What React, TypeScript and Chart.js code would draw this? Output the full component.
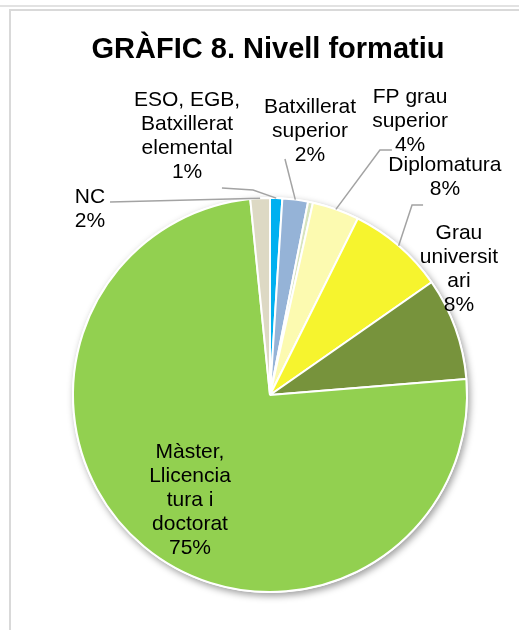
import React, { useEffect, useRef } from "react";
import { Chart, registerables } from "chart.js";

Chart.register(...registerables);

// ---- data ----
const categories = [
  "ESO, EGB, Batxillerat elemental",
  "Batxillerat superior",
  "FP grau mitjà",
  "FP grau superior",
  "Diplomatura",
  "Grau universitari",
  "Màster, Llicenciatura i doctorat",
  "NC",
];
const values = [1.0, 2.1, 0.4, 3.85, 7.95, 8.4, 74.7, 1.6];
const colors = ["#00B0F0", "#95B3D7", "#D7E4BD", "#FCFAB0", "#F6F42E", "#77933C", "#92D050", "#DDD9C4"];
// wrapped label text as in the original (percentage is appended from values)
const labelLines: (string[] | null)[] = [
  ["ESO, EGB,", "Batxillerat", "elemental"],
  ["Batxillerat", "superior"],
  null,
  ["FP grau", "superior"],
  ["Diplomatura"],
  ["Grau", "universit", "ari"],
  ["Màster,", "Llicencia", "tura i", "doctorat"],
  ["NC"],
];
const titleText = "GRÀFIC 8. Nivell formatiu";

// ---- label placement (in units of pie radius, relative to pie centre) ----
const labelPos: ([number, number] | null)[] = [
  [-0.421, -1.32],
  [0.203, -1.35],
  null,
  [0.711, -1.396],
  [0.888, -1.114],
  [0.959, -0.645],
  [-0.406, 0.525],
  [-0.914, -0.954],
];
// leader line points (radius units) before reaching the slice edge
const leaderPts: ([number, number][] | null)[] = [
  [[-0.244, -1.051], [-0.086, -1.041]],
  [[0.076, -1.198]],
  null,
  [[0.619, -1.244], [0.558, -1.244]],
  [[0.777, -0.964], [0.721, -0.964]],
  null,
  null,
  [[-0.812, -0.98]],
];

const FONT = "'Liberation Sans', Arial, sans-serif";

const decoPlugin = {
  id: "deco",
  beforeDraw(chart: any) {
    const ctx = chart.ctx;
    ctx.save();
    ctx.fillStyle = "#ffffff";
    ctx.fillRect(0, 0, chart.width, chart.height);
    ctx.strokeStyle = "#E2E2E2";
    ctx.lineWidth = 2;
    ctx.beginPath();
    ctx.moveTo(0, 6);
    ctx.lineTo(chart.width, 6);
    ctx.stroke();
    ctx.strokeStyle = "#D9D9D9";
    ctx.beginPath();
    ctx.moveTo(10, chart.height + 5);
    ctx.lineTo(10, 10);
    ctx.lineTo(chart.width + 5, 10);
    ctx.stroke();
    // title
    ctx.fillStyle = "#000000";
    ctx.font = `bold 29px ${FONT}`;
    ctx.textAlign = "center";
    ctx.textBaseline = "alphabetic";
    ctx.fillText(titleText, 268, 58);
    ctx.restore();
  },
  beforeDatasetsDraw(chart: any) {
    const arcs = chart.getDatasetMeta(0).data;
    if (!arcs.length) return;
    const a = arcs[0];
    const ctx = chart.ctx;
    ctx.save();
    ctx.shadowColor = "rgba(0,0,0,0.38)";
    ctx.shadowBlur = 7;
    ctx.shadowOffsetX = 2;
    ctx.shadowOffsetY = 3;
    ctx.fillStyle = "#ffffff";
    ctx.beginPath();
    ctx.arc(a.x, a.y, a.outerRadius + 1, 0, Math.PI * 2);
    ctx.fill();
    ctx.restore();
  },
  afterDatasetsDraw(chart: any) {
    const arcs = chart.getDatasetMeta(0).data;
    if (!arcs.length) return;
    const cx = arcs[0].x;
    const cy = arcs[0].y;
    const r = arcs[0].outerRadius;
    const ctx = chart.ctx;
    const total = values.reduce((s, v) => s + v, 0);
    ctx.save();
    // leader lines
    ctx.strokeStyle = "#A3A3A3";
    ctx.lineWidth = 1.5;
    leaderPts.forEach((pts, i) => {
      if (!pts) return;
      const arc = arcs[i];
      const mid = (arc.startAngle + arc.endAngle) / 2;
      ctx.beginPath();
      pts.forEach(([px, py], k) => {
        const X = cx + px * r;
        const Y = cy + py * r;
        if (k === 0) ctx.moveTo(X, Y);
        else ctx.lineTo(X, Y);
      });
      ctx.lineTo(cx + Math.cos(mid) * r, cy + Math.sin(mid) * r);
      ctx.stroke();
    });
    // labels
    ctx.fillStyle = "#000000";
    ctx.font = `21px ${FONT}`;
    ctx.textAlign = "center";
    ctx.textBaseline = "alphabetic";
    const lh = 24;
    labelLines.forEach((lines, i) => {
      const pos = labelPos[i];
      if (!lines || !pos) return;
      const pct = Math.round((values[i] / total) * 100) + "%";
      const all = [...lines, pct];
      const x = cx + pos[0] * r;
      const yc = cy + pos[1] * r;
      const y0 = yc - ((all.length - 1) * lh) / 2;
      all.forEach((t, k) => {
        ctx.fillText(t, x, y0 + k * lh + 7.5);
      });
    });
    ctx.restore();
  },
};

export default function App() {
  const ref = useRef<HTMLCanvasElement | null>(null);
  useEffect(() => {
    if (!ref.current) return;
    const chart = new Chart(ref.current, {
      type: "pie",
      data: {
        labels: categories,
        datasets: [
          {
            data: values,
            backgroundColor: colors,
            borderColor: "#ffffff",
            borderWidth: 2,
          },
        ],
      },
      options: {
        responsive: false,
        animation: false,
        devicePixelRatio: 1,
        layout: { padding: { left: 72, right: 51, top: 197, bottom: 37 } },
        plugins: {
          legend: { display: false },
          tooltip: { enabled: false },
          title: { display: false },
        },
      },
      plugins: [decoPlugin],
    });
    return () => chart.destroy();
  }, []);
  return (
    <div style={{ position: "fixed", left: 0, top: 0, width: 519, height: 630, background: "#fff" }}>
      <canvas ref={ref} width={519} height={630} style={{ display: "block" }} />
    </div>
  );
}
